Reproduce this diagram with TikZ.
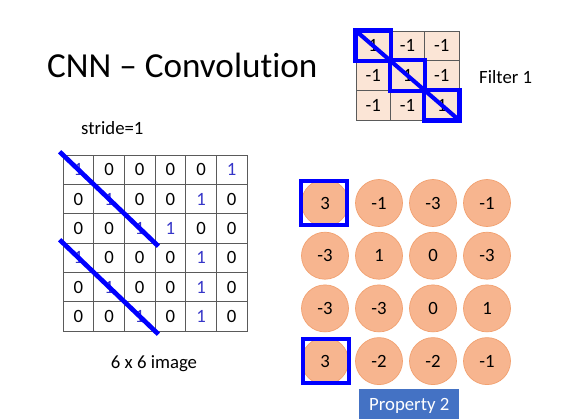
\documentclass[tikz,border=0pt]{standalone}
\usepackage{fontspec}
\setmainfont{Carlito}[Ligatures={TeX,NoCommon}]
\usepackage{tikz}
\usetikzlibrary{positioning}
\definecolor{gridgray}{HTML}{5A5A5A}
\definecolor{filterfill}{HTML}{FBE5D6}
\definecolor{featfill}{HTML}{F7B58F}
\definecolor{featedge}{HTML}{F2A170}
\definecolor{hitblue}{HTML}{0000FF}
\definecolor{oneblue}{HTML}{3535C8}
\definecolor{propblue}{HTML}{4472C4}
\tikzset{
    imgcell/.style={
        rectangle,
        draw=gridgray,
        line width=0.7pt,
        minimum width=0.92cm,
        minimum height=0.88cm,
        inner sep=0pt,
        font=\fontsize{16}{18}\selectfont % angka matriks
    },
    val1/.style={text=oneblue},
    val0/.style={text=black},
    filtercell/.style={
        imgcell,
        fill=filterfill,
        minimum width=1.03cm,
        minimum height=0.89cm
    },
    featmap/.style={
        circle,
        fill=featfill,
        draw=featedge,
        line width=0.6pt,
        minimum size=1.41cm,
        inner sep=0pt,
        font=\fontsize{16}{18}\selectfont
    },
    hitbox/.style={draw=hitblue, line width=3.6pt},
    hitsquare/.style={
        rectangle,
        draw=hitblue,
        line width=3.3pt,
        minimum width=1.38cm,
        minimum height=1.32cm
    },
    diagline/.style={draw=hitblue, line width=4pt},
    label/.style={font=\fontsize{16}{19}\selectfont, inner sep=0pt, anchor=base west}
}

\begin{document}
\begin{tikzpicture}[x=0.03cm, y=-0.03cm]

    \useasboundingbox[fill=white] (0,0) rectangle (563,419);

    \node[font=\fontsize{30}{36}\selectfont, inner sep=0pt, anchor=base west] (title) at (47,77) {CNN – Convolution};
    \node[label] (stride) at (81,134) {stride=1};
    \node[label] (filtername) at (479,83) {Filter 1};

    % 6 x 6 image
    \foreach \row [count=\r] in {{1,0,0,0,0,1},{0,1,0,0,1,0},{0,0,1,1,0,0},{1,0,0,0,1,0},{0,1,0,0,1,0},{0,0,1,0,1,0}} {
        \foreach \val [count=\c] in \row {
            \node[imgcell, val\val] (img-\r-\c) at ({63+(\c-0.5)*30.67},{155+(\r-0.5)*29.33}) {\val};
        }
    }
    \node[label, anchor=base] (imgname) at (154,368) {6 x 6 image};

    \draw[diagline, shorten <=-3.5pt, shorten >=-3.5pt]
        (img-1-1.north west) -- (img-3-3.south east);
    \draw[diagline, shorten <=-3.5pt, shorten >=-3.5pt]
        (img-4-1.north west) -- (img-6-3.south east);

    % filter
    \foreach \row [count=\r] in {{1,-1,-1},{-1,1,-1},{-1,-1,1}} {
        \foreach \val [count=\c] in \row {
            \node[filtercell] (flt-\r-\c) at ({356+(\c-0.5)*34.33},{31+(\r-0.5)*29.67}) {\val};
        }
    }
    \foreach \i in {1,2,3} {
        \draw[hitbox] (flt-\i-\i.north west) rectangle (flt-\i-\i.south east);
    }
    \draw[diagline, line width=3.5pt] (flt-1-1.north west) -- (flt-3-3.south east);

    % feature map
    \foreach \row [count=\r] in {{3,-1,-3,-1},{-3,1,0,-3},{-3,-3,0,1},{3,-2,-2,-1}} {
        \foreach \val [count=\c] in \row {
            \node[featmap] (feat-\r-\c) at ({325+(\c-1)*54},{203+(\r-1)*52.7}) {\val};
        }
    }
    \node[hitsquare] (hit-top) at ([xshift=-0.02cm]feat-1-1) {};
    \node[hitsquare] (hit-bottom) at ([xshift=0.02cm]feat-4-1) {};

    % property box
    \fill[propblue] (359,389) rectangle (459,419);
    \node[label, text=white] (property) at (369,410) {Property 2};

\end{tikzpicture}
\end{document}
